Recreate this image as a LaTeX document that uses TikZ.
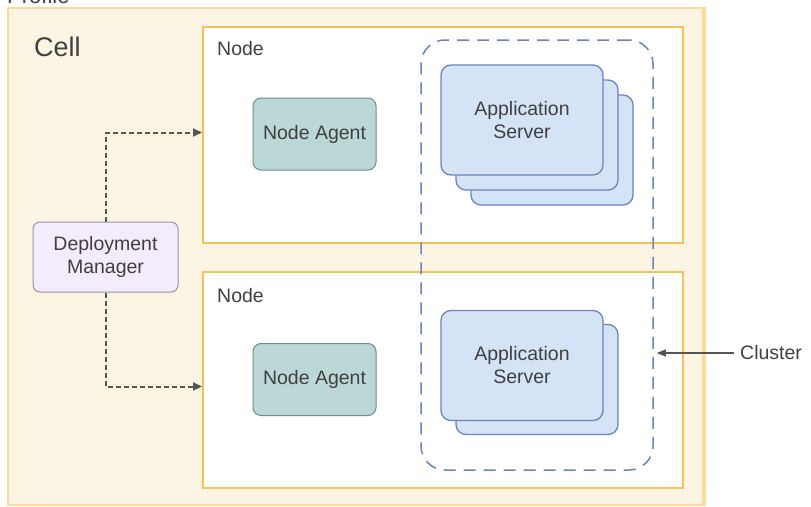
\documentclass[tikz,border=0pt]{standalone}
\usepackage{fontspec}
\setmainfont{Liberation Sans}
\usetikzlibrary{arrows.meta}
\definecolor{cellfill}{HTML}{FDF5E4}
\definecolor{cellline}{HTML}{FADB9A}
\definecolor{nodeline}{HTML}{F9C155}
\definecolor{agentfill}{HTML}{BBD8D7}
\definecolor{agentline}{HTML}{708C8E}
\definecolor{appfill}{HTML}{D4E3F6}
\definecolor{appline}{HTML}{6C84BC}
\definecolor{dmfill}{HTML}{F3ECFD}
\definecolor{dmline}{HTML}{9A92A6}
\definecolor{txt}{HTML}{404040}
\definecolor{arr}{HTML}{555555}
\tikzset{
  lbl/.style={font=\fontsize{19.5}{23}\selectfont, text=txt, inner sep=0pt},
  nodebox/.style={draw=nodeline, line width=2pt, fill=white, minimum width=480pt, minimum height=216pt, inner sep=0pt},
  agentbox/.style={draw=agentline, line width=1pt, fill=agentfill, rounded corners=8pt, minimum width=123pt, minimum height=72pt, lbl},
  appbox/.style={draw=appline, line width=1.3pt, fill=appfill, rounded corners=10pt, minimum width=162pt, minimum height=110pt, lbl, align=center},
  dmbox/.style={draw=dmline, line width=1pt, fill=dmfill, rounded corners=7pt, minimum width=145pt, minimum height=70pt, lbl, align=center},
  clusterbox/.style={draw=appline, line width=1.5pt, dash pattern=on 12pt off 8pt, rounded corners=24pt, minimum width=232pt, minimum height=430pt, inner sep=0pt},
  dasharrow/.style={draw=arr, line width=2pt, dash pattern=on 5pt off 3pt, -{Triangle[length=9pt,width=8pt]}},
  plainarrow/.style={draw=arr, line width=1.2pt, -{Triangle[length=9pt,width=7pt]}}
}
\begin{document}
\begin{tikzpicture}[x=1pt,y=-1pt]
\useasboundingbox (0,0) rectangle (811,506);
% profile label, mostly cut off by the page edge
\node[lbl, anchor=base west, font=\fontsize{22}{26}\selectfont] (profile) at (7,4) {Profile};
% cell
\node[draw=cellline, line width=2pt, fill=cellfill, minimum width=696pt, minimum height=497pt, inner sep=0pt] (cell) at (356,256.5) {};
\draw[cellline, line width=4pt] ([xshift=-1pt]cell.north east) -- ([xshift=-1pt]cell.south east);
\node[lbl, anchor=west, font=\fontsize{27}{32}\selectfont] (celllbl) at (34,47) {Cell};
% nodes
\node[nodebox] (n1) at (443,135) {};
\node[nodebox] (n2) at (443,379.5) {};
\node[lbl, anchor=west] (n1lbl) at (217,49) {Node};
\node[lbl, anchor=west] (n2lbl) at (217,296) {Node};
% node agents
\node[agentbox] (na1) at (314.5,134) {Node Agent};
\node[agentbox] (na2) at (314.5,379.5) {Node Agent};
% application servers, top stack
\node[appbox] (as1c) at (552,150) {};
\node[appbox] (as1b) at (537,135) {};
\node[appbox] (as1) at (522,120) {Application\\Server};
% application servers, bottom stack
\node[appbox] (as2b) at (537,379.5) {};
\node[appbox] (as2) at (522,365.5) {Application\\Server};
% cluster
\node[clusterbox] (cluster) at (537,255) {};
\node[lbl, anchor=west] (cl) at (740,353) {Cluster};
\draw[plainarrow] ([xshift=-6pt]cl.west) -- ([xshift=3pt]cluster.east |- cl.west);
% deployment manager
\node[dmbox] (dm) at (105.5,257) {Deployment\\Manager};
\draw[dasharrow] (dm.north) |- ([yshift=2.5pt]n1.west);
\draw[dasharrow] (dm.south) |- ([yshift=-7pt]n2.west);
\end{tikzpicture}
\end{document}
